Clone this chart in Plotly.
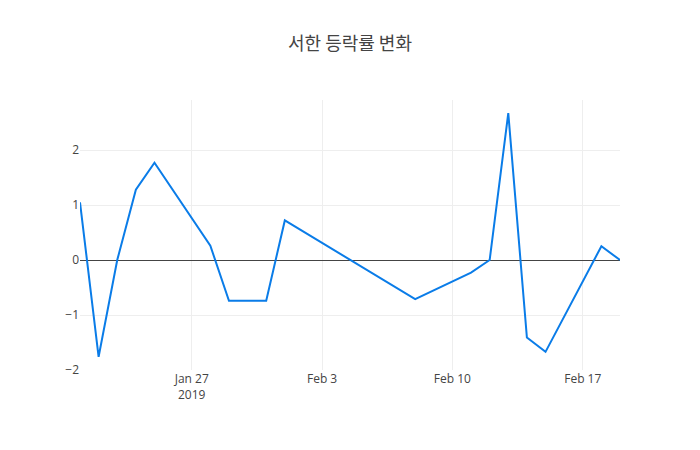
import plotly.graph_objects as go

dates = ["2019-01-21", "2019-01-22", "2019-01-23", "2019-01-24", "2019-01-25",
         "2019-01-28", "2019-01-29", "2019-01-31", "2019-02-01",
         "2019-02-08", "2019-02-11", "2019-02-12", "2019-02-13", "2019-02-14",
         "2019-02-15", "2019-02-18", "2019-02-19"]
change_pct = [1.05, -1.76, 0.0, 1.28, 1.77,
              0.26, -0.74, -0.74, 0.72,
              -0.71, -0.23, 0.0, 2.67, -1.41,
              -1.67, 0.25, 0.0]

title_text = "서한 등락률 변화"

fig = go.Figure(go.Scatter(
    x=dates, y=change_pct, mode="lines",
    line=dict(color="rgb(10,124,232)", width=2),
))
fig.update_layout(
    template="none",
    width=700, height=450,
    title=dict(text=title_text, x=0.5,
               font=dict(family="Noto Sans CJK KR, Open Sans", size=18, color="#444")),
    font=dict(family="Open Sans", size=12, color="#444"),
    paper_bgcolor="white", plot_bgcolor="white",
    margin=dict(l=80, r=80, t=100, b=80),
    showlegend=False,
)
fig.update_xaxes(showgrid=True, gridcolor="#eee", zeroline=False)
fig.update_yaxes(showgrid=True, gridcolor="#eee", zeroline=True,
                 zerolinecolor="#444", zerolinewidth=1, dtick=1,
                 range=[-2.0, 2.91])
fig.write_html("out.html")
